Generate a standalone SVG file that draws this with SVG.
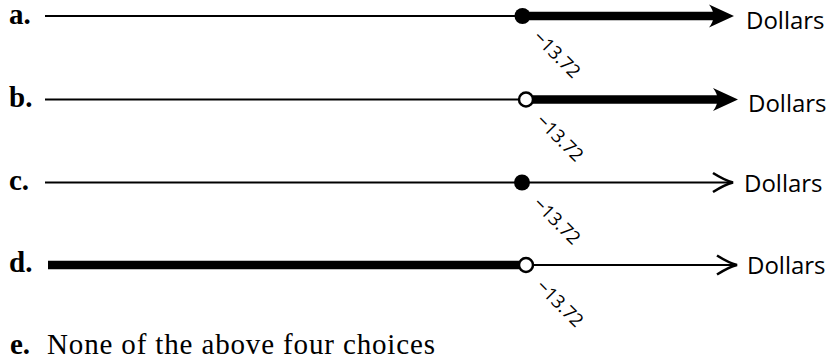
<svg xmlns="http://www.w3.org/2000/svg" width="827" height="362" viewBox="0 0 827 362">
<style>
.lbl{font-family:"Liberation Serif","Times New Roman",serif;font-weight:bold;font-size:29px;fill:#000}
.txt{font-family:"Liberation Serif","Times New Roman",serif;font-size:29px;fill:#000}
.unit{font-family:"Open Sans","Noto Sans",sans-serif;font-size:24px;fill:#000}
.num{font-family:"Open Sans","Noto Sans",sans-serif;font-size:18.5px;fill:#000}
.thin{stroke:#000;stroke-width:2;fill:none}
.thick{stroke:#000;stroke-width:8.5;fill:none}
.open{fill:#fff;stroke:#000;stroke-width:2.5}
.dot{fill:#000}
.headthin{fill:none;stroke:#000;stroke-width:2.6;stroke-linejoin:miter}
.headthick{fill:#000}
</style>
<defs>
<path id="hthin" class="headthin" d="M-20,-9.5 Q-8,-2 0,0 Q-8,2 -20,9.5"/>
<path id="hthick" class="headthick" d="M0,0 L-25,-11.5 Q-16,0 -25,11.5 Z"/>
</defs>
<g id="connectors">
<line class="thin" x1="45" y1="16" x2="522" y2="16"/>
<line class="thick" x1="522" y1="16" x2="716" y2="16"/>
<use href="#hthick" x="734" y="16"/>
<line class="thin" x1="45" y1="99.5" x2="519" y2="99.5"/>
<line class="thick" x1="533" y1="99.5" x2="720" y2="99.5"/>
<use href="#hthick" x="738" y="99.5"/>
<line class="thin" x1="45" y1="182.5" x2="731" y2="182.5"/>
<use href="#hthin" x="733" y="182.5"/>
<line class="thick" x1="48" y1="265" x2="519" y2="265"/>
<line class="thin" x1="533" y1="265" x2="735" y2="265"/>
<use href="#hthin" x="737" y="265"/>
</g>
<g id="a">
<text class="lbl" x="9" y="23.5">a.</text>
<circle class="dot" cx="522.5" cy="16" r="8"/>
<text class="num" transform="translate(532,38.5) rotate(45)">−13.72</text>
<text class="unit" x="746" y="29">Dollars</text>
</g>
<g id="b">
<text class="lbl" x="9" y="106.5">b.</text>
<circle class="open" cx="526" cy="99.5" r="7"/>
<text class="num" transform="translate(535,122) rotate(45)">−13.72</text>
<text class="unit" x="748" y="111.5">Dollars</text>
</g>
<g id="c">
<text class="lbl" x="9" y="189.5">c.</text>
<circle class="dot" cx="522" cy="182.5" r="8"/>
<text class="num" transform="translate(532,205) rotate(45)">−13.72</text>
<text class="unit" x="744" y="192">Dollars</text>
</g>
<g id="d">
<text class="lbl" x="9" y="272">d.</text>
<circle class="open" cx="526" cy="265" r="7"/>
<text class="num" transform="translate(535,287.5) rotate(45)">−13.72</text>
<text class="unit" x="747" y="274">Dollars</text>
</g>
<g id="e">
<text class="lbl" x="10" y="354">e.</text>
<text class="txt" x="47" y="354" textLength="388" lengthAdjust="spacing">None of the above four choices</text>
</g>
</svg>
